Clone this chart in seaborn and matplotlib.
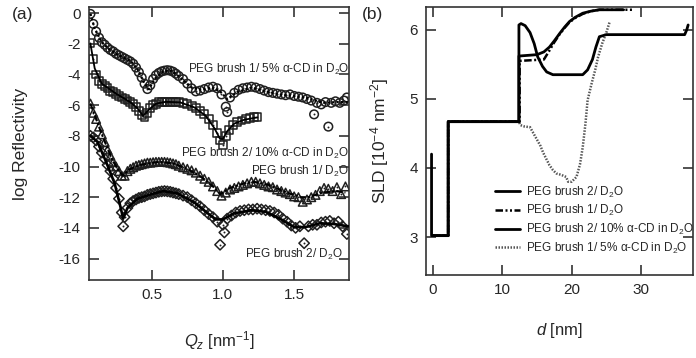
import numpy as np
import pandas as pd
import matplotlib
matplotlib.use("Agg")
import matplotlib.pyplot as plt
import seaborn as sns

sns.set_style("ticks")
plt.rcParams['font.family'] = ['Liberation Sans', 'DejaVu Sans']
plt.rcParams['mathtext.fontset'] = 'custom'
plt.rcParams['mathtext.rm'] = 'Liberation Sans'
plt.rcParams['mathtext.it'] = 'Liberation Sans:italic'
plt.rcParams['mathtext.bf'] = 'Liberation Sans:bold'

# ---------------- panel (a): reflectivity data ----------------
q_low = [0.07, 0.09, 0.11, 0.13, 0.15, 0.17, 0.19, 0.21, 0.23, 0.25, 0.27, 0.29, 0.31, 0.33, 0.35,
         0.37, 0.39, 0.41, 0.43, 0.45, 0.47, 0.49, 0.51, 0.53, 0.55, 0.57, 0.59, 0.61, 0.63, 0.65,
         0.67, 0.69]

# PEG brush 1 / 5% a-CD in D2O (circles)
q1 = q_low + [0.72, 0.75, 0.78, 0.81, 0.84, 0.87, 0.90, 0.93, 0.96, 0.99, 1.02, 1.03, 1.05, 1.08,
              1.11, 1.14, 1.17, 1.20, 1.23, 1.26, 1.29, 1.32, 1.35, 1.38, 1.41, 1.44, 1.47, 1.50,
              1.53, 1.56, 1.59, 1.62, 1.64, 1.66, 1.69, 1.72, 1.74, 1.76, 1.79, 1.82, 1.85, 1.87]
r1 = [-0.05, -0.7, -1.2, -1.6, -1.9, -2.06, -2.25, -2.4, -2.5, -2.65, -2.75, -2.85, -2.95, -3.05,
      -3.15, -3.3, -3.55, -3.85, -4.2, -4.6, -4.95, -4.7, -4.3, -4.05, -3.9, -3.8, -3.75, -3.72,
      -3.75, -3.82, -3.95, -4.1,
      -4.3, -4.6, -4.9, -5.1, -5.05, -4.95, -4.85, -4.8, -4.9, -5.3, -6.1, -6.45, -5.5, -5.2,
      -5.0, -4.9, -4.85, -4.8, -4.85, -4.95, -5.05, -5.15, -5.2, -5.25, -5.3, -5.35, -5.3, -5.4,
      -5.45, -5.5, -5.6, -5.7, -6.6, -5.85, -5.95, -5.8, -7.4, -5.85, -5.75, -5.85, -5.7, -5.5]
qf1 = [0.07, 0.10, 0.15, 0.20, 0.25, 0.30, 0.35, 0.40, 0.45, 0.48, 0.52, 0.58, 0.64, 0.70, 0.78,
       0.85, 0.92, 0.98, 1.03, 1.10, 1.20, 1.30, 1.40, 1.50, 1.60, 1.70, 1.80, 1.88]
rf1 = [-0.05, -1.0, -1.9, -2.35, -2.65, -2.9, -3.1, -3.65, -4.6, -4.95, -4.3, -3.8, -3.75, -4.2,
       -4.85, -5.0, -4.85, -5.1, -5.6, -5.15, -4.85, -5.1, -5.3, -5.4, -5.55, -5.85, -5.8, -5.8]

# PEG brush 2 / 10% a-CD in D2O (squares)
q2 = q_low + [0.72, 0.75, 0.78, 0.81, 0.84, 0.87, 0.90, 0.93, 0.96, 0.98, 1.00, 1.02, 1.04, 1.07,
              1.10, 1.13, 1.16, 1.19, 1.22, 1.24]
r2 = [-1.95, -3.0, -4.0, -4.4, -4.6, -4.75, -4.9, -5.05, -5.15, -5.25, -5.4, -5.5, -5.6, -5.7,
      -5.8, -5.9, -6.1, -6.4, -6.65, -6.75, -6.5, -6.2, -6.0, -5.9, -5.82, -5.8, -5.78, -5.78,
      -5.78, -5.8, -5.8, -5.82,
      -5.88, -5.95, -6.05, -6.2, -6.4, -6.6, -6.9, -7.3, -7.8, -8.3, -8.6, -8.0, -7.6, -7.3,
      -7.1, -7.0, -6.9, -6.85, -6.8, -6.8]
qf2 = [0.07, 0.10, 0.15, 0.25, 0.35, 0.40, 0.44, 0.48, 0.53, 0.60, 0.70, 0.80, 0.88, 0.94, 0.98,
       1.00, 1.03, 1.08, 1.15, 1.24]
rf2 = [-2.0, -3.6, -4.6, -5.25, -5.8, -6.2, -6.7, -6.3, -5.9, -5.78, -5.82, -6.15, -6.7, -7.5,
       -8.2, -8.2, -7.7, -7.2, -6.95, -6.8]

# PEG brush 1 / D2O (triangles)
q3 = q_low + [0.72, 0.75, 0.78, 0.81, 0.84, 0.87, 0.90, 0.93, 0.96, 0.99, 1.02, 1.05, 1.08, 1.11,
              1.14, 1.17, 1.20, 1.23, 1.26, 1.29, 1.32, 1.35, 1.38, 1.41, 1.44, 1.47, 1.50, 1.53,
              1.56, 1.59, 1.62, 1.65, 1.68, 1.71, 1.74, 1.77, 1.80, 1.83, 1.86]
r3 = [-5.9, -6.5, -6.9, -7.4, -7.9, -8.4, -8.9, -9.3, -9.7, -10.0, -10.3, -10.6, -10.6, -10.3,
      -10.15, -10.05, -9.95, -9.9, -9.85, -9.8, -9.75, -9.75, -9.72, -9.7, -9.7, -9.7, -9.7,
      -9.72, -9.75, -9.8, -9.85, -9.95,
      -10.05, -10.15, -10.25, -10.4, -10.6, -10.8, -11.0, -11.3, -11.6, -11.9, -11.7, -11.5,
      -11.4, -11.3, -11.2, -11.1, -11.0, -11.0, -11.1, -11.2, -11.3, -11.35, -11.5, -11.6, -11.7,
      -11.8, -11.95, -12.0, -12.3, -12.15, -12.0, -11.85, -11.6, -11.4, -11.45, -11.6, -11.35,
      -11.8, -11.3]
qf3 = [0.07, 0.15, 0.22, 0.27, 0.30, 0.34, 0.42, 0.55, 0.65, 0.75, 0.85, 0.93, 0.98, 1.00, 1.05,
       1.15, 1.22, 1.32, 1.45, 1.55, 1.60, 1.70, 1.80, 1.86]
rf3 = [-5.9, -7.9, -9.5, -10.3, -10.6, -10.2, -9.9, -9.7, -9.8, -10.15, -10.7, -11.3, -11.8,
       -11.7, -11.4, -11.1, -11.0, -11.2, -11.7, -12.0, -12.0, -11.7, -11.6, -11.7]

# PEG brush 2 / D2O (diamonds)
q4 = q_low + [0.72, 0.75, 0.78, 0.81, 0.84, 0.87, 0.90, 0.93, 0.96, 0.98, 1.00, 1.01, 1.03, 1.06,
              1.09, 1.12, 1.15, 1.18, 1.21, 1.24, 1.27, 1.30, 1.33, 1.36, 1.39, 1.42, 1.45, 1.48,
              1.51, 1.54, 1.57, 1.60, 1.63, 1.66, 1.69, 1.72, 1.75, 1.78, 1.81, 1.84, 1.87, 0.30]
r4 = [-8.0, -8.1, -8.3, -8.7, -9.1, -9.5, -9.9, -10.3, -10.8, -11.4, -12.1, -13.0, -13.3, -12.7,
      -12.4, -12.25, -12.15, -12.05, -12.0, -11.95, -11.85, -11.8, -11.75, -11.7, -11.65, -11.62,
      -11.6, -11.62, -11.65, -11.7, -11.75, -11.8,
      -11.9, -12.0, -12.2, -12.4, -12.6, -12.85, -13.1, -13.3, -13.6, -15.1, -13.8, -14.3, -13.4,
      -13.2, -13.0, -12.9, -12.85, -12.8, -12.8, -12.75, -12.8, -12.85, -12.9, -13.0, -13.15,
      -13.4, -13.6, -13.85, -14.0, -13.9, -15.0, -13.9, -13.8, -13.8, -13.65, -13.6, -13.55,
      -13.7, -13.6, -13.9, -14.4, -13.9]
qf4 = [0.07, 0.12, 0.18, 0.24, 0.28, 0.30, 0.33, 0.40, 0.50, 0.58, 0.68, 0.80, 0.90, 0.95, 1.00,
       1.08, 1.20, 1.30, 1.40, 1.50, 1.58, 1.68, 1.78, 1.88]
rf4 = [-8.0, -8.4, -9.7, -11.1, -12.6, -13.4, -12.7, -12.1, -11.8, -11.6, -11.75, -12.35, -13.1,
       -13.45, -13.45, -13.05, -12.85, -12.95, -13.4, -13.95, -13.95, -13.7, -13.75, -13.9]

labels_a = ["PEG brush 1/ 5% α-CD in D$_2$O", "PEG brush 2/ 10% α-CD in D$_2$O",
            "PEG brush 1/ D$_2$O", "PEG brush 2/ D$_2$O"]

# ---------------- panel (b): SLD profiles ----------------
d_b2 = [0.0, 2.2, 2.2, 12.4, 12.4, 15.0, 16.0, 16.8, 17.5, 18.3, 19.0, 19.7, 20.5, 21.6, 22.8,
        24.0, 26.0, 27.5]
s_b2 = [3.02, 3.02, 4.67, 4.67, 5.62, 5.64, 5.68, 5.75, 5.84, 5.95, 6.04, 6.12, 6.18, 6.24, 6.27,
        6.29, 6.29, 6.29]
d_b1 = [0.0, 2.2, 2.2, 12.5, 12.5, 16.0, 16.8, 17.5, 18.3, 19.0, 19.7, 20.5, 21.6, 22.8, 24.0,
        26.0, 29.0]
s_b1 = [3.02, 3.02, 4.67, 4.67, 5.55, 5.57, 5.70, 5.82, 5.94, 6.03, 6.11, 6.17, 6.23, 6.27, 6.29,
        6.29, 6.29]
d_b2cd = [-0.2, -0.2, 2.2, 2.2, 12.4, 12.4, 12.7, 13.3, 14.0, 14.6, 15.1, 15.8, 16.4, 17.3, 21.6,
          22.3, 23.0, 23.5, 24.0, 25.0, 36.3, 36.6, 36.8]
s_b2cd = [4.2, 3.02, 3.02, 4.67, 4.67, 6.07, 6.09, 6.06, 5.96, 5.80, 5.61, 5.47, 5.39, 5.35, 5.35,
          5.42, 5.57, 5.75, 5.90, 5.93, 5.93, 6.00, 6.07]
d_b1cd = [0.0, 2.2, 2.2, 12.4, 12.6, 13.2, 14.0, 14.5, 15.0, 15.5, 15.9, 16.4, 16.8, 17.3, 17.8,
          18.5, 19.2, 19.5, 20.0, 20.7, 21.2, 21.6, 22.0, 22.3, 22.9, 23.4, 23.8, 24.4, 25.0, 25.5]
s_b1cd = [3.02, 3.02, 4.67, 4.67, 4.62, 4.60, 4.59, 4.50, 4.41, 4.32, 4.22, 4.12, 4.04, 3.97,
          3.92, 3.90, 3.87, 3.80, 3.80, 3.87, 4.05, 4.30, 4.65, 4.98, 5.23, 5.42, 5.60, 5.80, 5.96,
          6.12]

labels_b = ["PEG brush 2/ D$_2$O", "PEG brush 1/ D$_2$O",
            "PEG brush 2/ 10% α-CD in D$_2$O", "PEG brush 1/ 5% α-CD in D$_2$O"]

# ---------------- figure ----------------
fig = plt.figure(figsize=(6.96, 3.58), dpi=100)
axa = fig.add_axes([89/696, 1-280/358, 260/696, 273/358])
axb = fig.add_axes([426/696, 1-275/358, 267/696, 268/358])

mk_col = '#202020'
series = [(q1, r1, 'o', 38), (q2, r2, 's', 32), (q3, r3, '^', 38), (q4, r4, 'D', 28)]
for q, r, m, s in series:
    df = pd.DataFrame({'q': q, 'r': r})
    sns.scatterplot(data=df, x='q', y='r', marker=m, s=s, facecolors='none',
                    edgecolor=mk_col, linewidth=1.1, ax=axa, legend=False, zorder=2)
    sns.scatterplot(data=df, x='q', y='r', marker='o', s=2, color=mk_col,
                    linewidth=0, ax=axa, legend=False, zorder=2)

fits = [(qf1, rf1, dict(ls=(0, (1, 1)), lw=1.6)),
        (qf2, rf2, dict(ls='-', lw=1.3)),
        (qf3, rf3, dict(ls=(0, (3, 1, 1, 1)), lw=1.5)),
        (qf4, rf4, dict(ls='-', lw=1.9))]
for qf, rf, kw in fits:
    sns.lineplot(x=qf, y=rf, color='black', ax=axa, sort=False, estimator=None, zorder=3, **kw)

axa.text(1.885, -3.7, labels_a[0], ha='right', va='center', fontsize=8.5)
axa.text(1.885, -9.16, labels_a[1], ha='right', va='center', fontsize=8.5)
axa.text(1.885, -10.3, labels_a[2], ha='right', va='center', fontsize=8.5)
axa.text(1.845, -15.75, labels_a[3], ha='right', va='center', fontsize=8.5)

axa.set_xlim(0.06, 1.885)
axa.set_ylim(-17.4, 0.4)
axa.set_xticks([0.5, 1.0, 1.5])
axa.set_xticklabels(['0.5', '1.0', '1.5'])
axa.set_yticks(np.arange(0, -17, -2))
axa.set_yticklabels([str(v) for v in range(0, -17, -2)])
axa.set_xlabel(r'$Q_\mathit{z}$ [nm$^{-1}$]', fontsize=12, labelpad=19)
axa.set_ylabel('log Reflectivity', fontsize=12.5, labelpad=22)

# panel b
sns.lineplot(x=d_b1cd, y=s_b1cd, ax=axb, sort=False, estimator=None, color='#555555',
             lw=1.8, ls=(0, (0.6, 0.6)), label=labels_b[3], zorder=2)
sns.lineplot(x=d_b1, y=s_b1, ax=axb, sort=False, estimator=None, color='black',
             lw=1.8, ls=(0, (3, 1, 0.8, 1, 0.8, 1)), label=labels_b[1], zorder=3)
sns.lineplot(x=d_b2cd, y=s_b2cd, ax=axb, sort=False, estimator=None, color='black',
             lw=2.0, ls='-', label=labels_b[2], zorder=4)
sns.lineplot(x=d_b2, y=s_b2, ax=axb, sort=False, estimator=None, color='black',
             lw=2.0, ls='-', label=labels_b[0], zorder=5)

h, l = axb.get_legend_handles_labels()
hd = {lab: hh for hh, lab in zip(h, l)}
axb.legend([hd[x] for x in labels_b], labels_b, loc='lower right', frameon=False,
           fontsize=8.5, handlelength=2.1, handletextpad=0.5, labelspacing=0.3,
           borderaxespad=0.0, bbox_to_anchor=(1.02, 0.055))

axb.set_xlim(-1.0, 37.5)
axb.set_ylim(2.45, 6.33)
axb.set_xticks([0, 10, 20, 30])
axb.set_yticks([3, 4, 5, 6])
axb.set_xlabel(r'$d$ [nm]', fontsize=12, labelpad=17)
axb.set_ylabel(r'SLD [10$^{-4}$ nm$^{-2}$]', fontsize=12.5, labelpad=13)

for ax in (axa, axb):
    ax.tick_params(direction='in', length=7, width=1.2, top=True, right=True,
                   labelsize=11, pad=6, color='#333333')
    for sp in ax.spines.values():
        sp.set_linewidth(1.2)
        sp.set_color('#333333')
        sp.set_visible(True)

fig.text(12/696, 1-15/358, '(a)', fontsize=12.5, va='center', ha='left')
fig.text(362/696, 1-15/358, '(b)', fontsize=12.5, va='center', ha='left')

fig.savefig('out.png', dpi=100)
